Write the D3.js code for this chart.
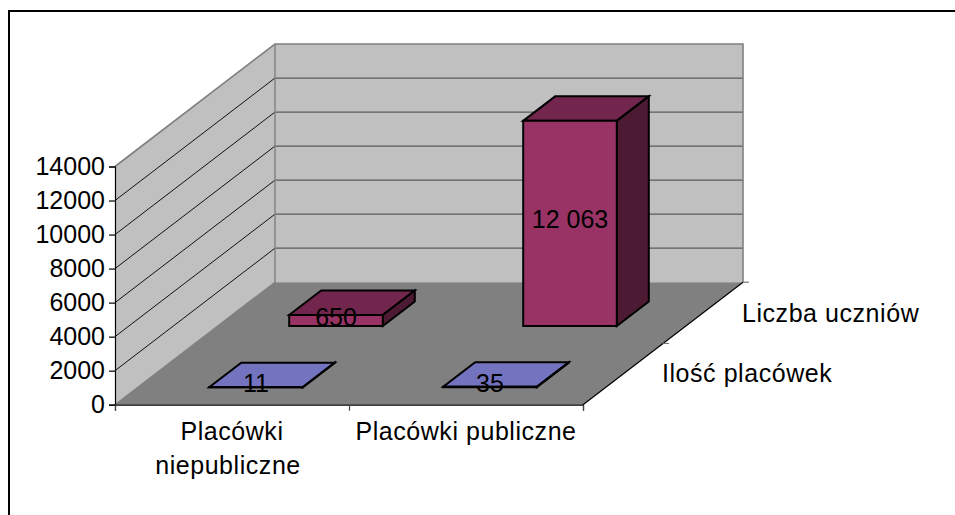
<!DOCTYPE html>
<html>
<head>
<meta charset="utf-8">
<script src="https://cdn.jsdelivr.net/npm/d3@7"></script>
<style>
html, body { margin: 0; padding: 0; background: #fff; overflow: hidden; }
text { font-family: "Liberation Sans", Arial, sans-serif; fill: #000; font-size: 25px; }
text.cat, text.series { letter-spacing: 0.55px; }
</style>
</head>
<body>
<div id="chart"></div>
<script>
const WIDTH = 955, HEIGHT = 515;

const categories = ["Placówki niepubliczne", "Placówki publiczne"];
const seriesNames = ["Ilość placówek", "Liczba uczniów"];
const placowkiValues = [11, 35];
const uczniowieValues = [650, 12063];
const placowkiLabels = ["11", "35"];
const uczniowieLabels = ["650", "12 063"];
const yTicks = [0, 2000, 4000, 6000, 8000, 10000, 12000, 14000];

const COLOR_WALL = "#c0c0c0", COLOR_FLOOR = "#808080", COLOR_EDGE = "#808080";
const SERIES_COLORS = [
    { front: "#9999ff", top: "#7373bf", side: "#4d4d80" },
    { front: "#993366", top: "#73264d", side: "#4d1a33" }
];

// origin of the plot and the oblique depth vector
const X0 = 115, DX = 160, DY = -122.5;

const x = d3.scaleBand().domain(categories).range([0, 468]).paddingInner(0.6).paddingOuter(0.3);
const xEdge = d3.scaleLinear().domain([0, categories.length]).range([0, 468]);
const y = d3.scaleLinear().domain([0, 14000]).range([404.7, 166.5]);
const z = d3.scaleBand().domain(seriesNames).range([0, 1]).paddingInner(0.6).paddingOuter(0.3);

const px = (a, d) => X0 + a + d * DX;
const py = (v, d) => y(v) + d * DY;
const pt = (a, v, d) => [px(a, d), py(v, d)];
const poly = pts => pts.map(p => p.join(",")).join(" ");

const svg = d3.select("#chart").append("svg")
    .attr("width", WIDTH)
    .attr("height", HEIGHT)
    .attr("viewBox", `0 0 ${WIDTH} ${HEIGHT}`)
    .style("display", "block");

const xMax = xEdge.range()[1];
const vMax = y.domain()[1];

// Frame
svg.append("path")
    .attr("d", `M9,${HEIGHT}V11H${WIDTH}`)
    .attr("fill", "none")
    .attr("stroke", "#000")
    .attr("stroke-width", 2);

// Walls and floor
svg.append("polygon")
    .attr("points", poly([pt(0, 0, 0), pt(0, vMax, 0), pt(0, vMax, 1), pt(0, 0, 1)]))
    .attr("fill", COLOR_WALL);
svg.append("polygon")
    .attr("points", poly([pt(0, 0, 1), pt(0, vMax, 1), pt(xMax, vMax, 1), pt(xMax, 0, 1)]))
    .attr("fill", COLOR_WALL);
svg.append("polygon")
    .attr("points", poly([pt(0, 0, 0), pt(0, 0, 1), pt(xMax, 0, 1), pt(xMax, 0, 0)]))
    .attr("fill", COLOR_FLOOR);

// Gridlines
const gridTicks = yTicks.filter(t => t > 0 && t < vMax);
svg.selectAll("line.grid-side")
    .data(gridTicks)
    .join("line")
    .attr("class", "grid-side")
    .attr("x1", px(0, 0)).attr("x2", px(0, 1))
    .attr("y1", d => py(d, 0)).attr("y2", d => py(d, 1))
    .attr("stroke", "#111")
    .attr("stroke-width", 1);
svg.selectAll("line.grid-back")
    .data(gridTicks)
    .join("line")
    .attr("class", "grid-back")
    .attr("x1", px(0, 1)).attr("x2", px(xMax, 1))
    .attr("y1", d => py(d, 1)).attr("y2", d => py(d, 1))
    .attr("stroke", "#5a5a5a")
    .attr("stroke-width", 1.3);

// Wall edges
svg.append("path")
    .attr("d", "M" + [pt(0, vMax, 0), pt(0, vMax, 1), pt(xMax, vMax, 1), pt(xMax, 0, 1)].join("L"))
    .attr("fill", "none")
    .attr("stroke", COLOR_EDGE)
    .attr("stroke-width", 1.6);
svg.append("path")
    .attr("d", "M" + [pt(0, 0, 0), pt(0, 0, 1), pt(0, vMax, 1)].join("L"))
    .attr("fill", "none")
    .attr("stroke", COLOR_EDGE)
    .attr("stroke-width", 1.4);

// Bars, back series first
const bars = [];
[uczniowieValues, placowkiValues].forEach((vals, i) => {
    const s = 1 - i;
    vals.forEach((v, c) => bars.push({ s, c, v }));
});
const barW = x.bandwidth(), barD = z.bandwidth();

const barG = svg.selectAll("g.bar")
    .data(bars)
    .join("g")
    .attr("class", "bar")
    .attr("transform", "translate(0,1)")
    .attr("stroke", "#000")
    .attr("stroke-width", 2)
    .attr("stroke-linejoin", "miter");

const ax = d => x(categories[d.c]);
const az = d => z(seriesNames[d.s]);

barG.append("polygon")
    .attr("points", d => poly([pt(ax(d), d.v, az(d)), pt(ax(d) + barW, d.v, az(d)), pt(ax(d) + barW, d.v, az(d) + barD), pt(ax(d), d.v, az(d) + barD)]))
    .attr("fill", d => SERIES_COLORS[d.s].top);
barG.append("polygon")
    .attr("points", d => poly([pt(ax(d) + barW, 0, az(d)), pt(ax(d) + barW, d.v, az(d)), pt(ax(d) + barW, d.v, az(d) + barD), pt(ax(d) + barW, 0, az(d) + barD)]))
    .attr("fill", d => SERIES_COLORS[d.s].side);
barG.append("polygon")
    .attr("points", d => poly([pt(ax(d), 0, az(d)), pt(ax(d), d.v, az(d)), pt(ax(d) + barW, d.v, az(d)), pt(ax(d) + barW, 0, az(d))]))
    .attr("fill", d => SERIES_COLORS[d.s].front);

// Axes
const yAxis = svg.append("g")
    .attr("transform", `translate(${X0},0)`)
    .call(d3.axisLeft(y).tickValues(yTicks).tickSize(6).tickPadding(4).tickFormat(d3.format("d")));
yAxis.attr("font-size", null).attr("font-family", null);
yAxis.selectAll("line,path").attr("stroke", "#000").attr("stroke-width", 1.2);

const xAxis = svg.append("g")
    .attr("transform", `translate(${X0},${y(0)})`)
    .call(d3.axisBottom(xEdge).tickValues(d3.range(categories.length + 1)).tickSize(6).tickFormat(""));
xAxis.selectAll("line").attr("stroke", "#444").attr("stroke-width", 1.2);
xAxis.select("path").attr("stroke", "#000").attr("stroke-width", 1.2);

// Depth axis
svg.append("line")
    .attr("x1", px(xMax, 0)).attr("y1", py(0, 0))
    .attr("x2", px(xMax, 1)).attr("y2", py(0, 1))
    .attr("stroke", "#000")
    .attr("stroke-width", 1.2);
svg.selectAll("line.depth-tick")
    .data([0.5, 1])
    .join("line")
    .attr("class", "depth-tick")
    .attr("x1", d => px(xMax, d)).attr("x2", d => px(xMax, d) + 6)
    .attr("y1", d => py(0, d)).attr("y2", d => py(0, d))
    .attr("stroke", "#777")
    .attr("stroke-width", 1.2);

// Category labels
const catG = svg.selectAll("text.cat")
    .data(categories)
    .join("text")
    .attr("class", "cat")
    .attr("text-anchor", "middle");
catG.filter((d, i) => i === 0).selectAll("tspan")
    .data(d => d.split(" "))
    .join("tspan")
    .attr("x", (d, i) => X0 + xEdge(0.5) - i * 4)
    .attr("y", (d, i) => 440 + i * 33.5)
    .text(d => d);
catG.filter((d, i) => i === 1)
    .attr("x", X0 + xEdge(1.5))
    .attr("y", 440)
    .text(d => d);

// Series labels
svg.selectAll("text.series")
    .data(seriesNames)
    .join("text")
    .attr("class", "series")
    .attr("x", (d, i) => [662, 742][i])
    .attr("y", (d, i) => [382, 322][i])
    .text(d => d);

// Data labels on the front faces
const barText = [placowkiLabels, uczniowieLabels];
svg.selectAll("text.value")
    .data(bars)
    .join("text")
    .attr("class", "value")
    .attr("text-anchor", "middle")
    .attr("x", d => px(ax(d) + barW / 2, az(d)))
    .attr("y", d => (py(0, az(d)) + py(d.v, az(d))) / 2 + 6)
    .text(d => barText[d.s][d.c]);
</script>
</body>
</html>
